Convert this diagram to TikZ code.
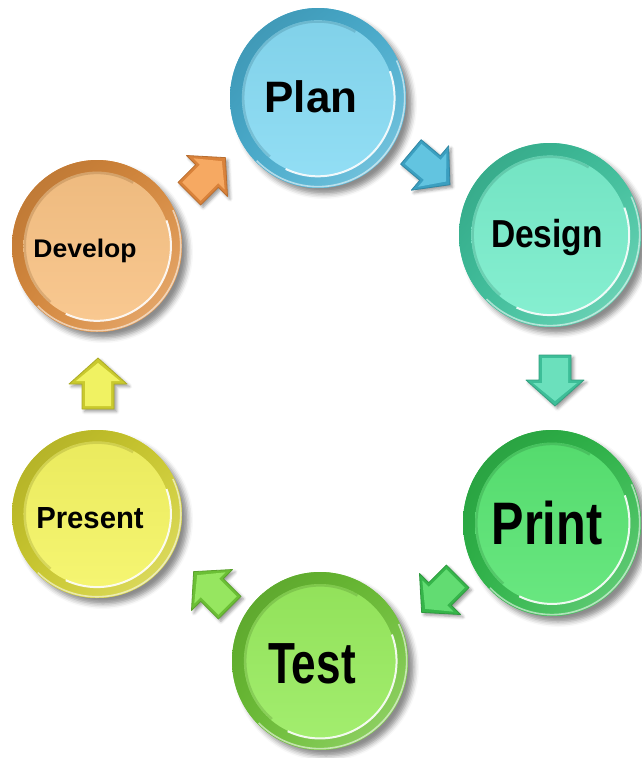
\documentclass[tikz,border=0pt]{standalone}
\usepackage{graphicx}
\usepackage{fontspec}
\setmainfont{Liberation Sans}
\usetikzlibrary{shapes.geometric,shadows.blur,shadings}

% button colours: rim (ring) and face
\definecolor{planR}{HTML}{4AB3D6}
\definecolor{planF}{HTML}{86DAF3}
\definecolor{desR}{HTML}{40C8A2}
\definecolor{desF}{HTML}{78EDCB}
\definecolor{prnR}{HTML}{30BE4C}
\definecolor{prnF}{HTML}{58E472}
\definecolor{tstR}{HTML}{6EC535}
\definecolor{tstF}{HTML}{98EB5E}
\definecolor{preR}{HTML}{D4D22E}
\definecolor{preF}{HTML}{F4F462}
\definecolor{devR}{HTML}{E08E3E}
\definecolor{devF}{HTML}{F8C284}
% arrow colours: face and edge
\definecolor{aOrF}{HTML}{F6A962}
\definecolor{aOrD}{HTML}{D9823A}
\definecolor{aBlF}{HTML}{62C4E0}
\definecolor{aBlD}{HTML}{3B9FC0}
\definecolor{aTeF}{HTML}{6BE0BC}
\definecolor{aTeD}{HTML}{3DBE98}
\definecolor{aGrF}{HTML}{62DC72}
\definecolor{aGrD}{HTML}{36B54A}
\definecolor{aLgF}{HTML}{96E660}
\definecolor{aLgD}{HTML}{6BBF35}
\definecolor{aYeF}{HTML}{F0F262}
\definecolor{aYeD}{HTML}{C9C92E}

\tikzset{
  % glossy round button: x radius, y radius, rim colour, face colour
  button/.style n args={4}{
    ellipse, inner sep=0pt, draw=none,
    minimum width=2*#1pt, minimum height=2*#2pt,
    fill=#3,
    blur shadow={shadow xshift=6pt, shadow yshift=-6pt,
                 shadow blur radius=5pt, shadow opacity=45},
    path picture={
      \begin{scope}[shift={(path picture bounding box.center)}, x=#1pt, y=#2pt]
        % bevelled ring
        \shade[upper left=#3!82!black, upper right=#3!95!black,
               lower left=#3!95!black, lower right=#3!70!white]
          (-1,-1) rectangle (1,1);
        \draw[white, opacity=.55, line width=1.6pt]
          (-135:0.985) arc[start angle=-135, end angle=25, radius=0.985];
        % flat face
        \shade[top color=#4!96!black, middle color=#4, bottom color=#4!90!white]
          (0,0) circle (0.865);
        % inner shadow and glint on the face edge
        \draw[#3!55!black, opacity=.22, line width=2.5pt]
          (60:0.85) arc[start angle=60, end angle=230, radius=0.85];
        \draw[white, opacity=.9, line width=2pt]
          (-115:0.87) arc[start angle=-115, end angle=20, radius=0.87];
      \end{scope}
    }
  },
  lbl/.style={font=\bfseries, anchor=base, inner sep=0pt, text=black},
  pics/blockarrow/.style 2 args={code={
    \filldraw[fill=#2, draw=#2!85!black, line width=0.8pt, line join=round,
              blur shadow={shadow xshift=2.5pt, shadow yshift=-2.5pt,
                           shadow blur radius=3pt, shadow opacity=40}]
      (-25,-16) -- (0,-16) -- (0,-29) -- (26,0) -- (0,29) -- (0,16)
      -- (-25,16) -- cycle;
    \fill[#1]
      (-22,-13) -- (3,-13) -- (3,-22) -- (21,0) -- (3,22) -- (3,13)
      -- (-22,13) -- cycle;
  }}
}

\begin{document}
\begin{tikzpicture}[x=1pt, y=-1pt]
  \useasboundingbox (0,0) rectangle (641,758);

  % the six stage buttons
  \node[button={88}{90}{planR}{planF}] (plan)    at (318,98)  {};
  \node[button={91}{92}{desR}{desF}]   (design)  at (550,235) {};
  \node[button={89}{93}{prnR}{prnF}]   (print)   at (552,523) {};
  \node[button={88}{89}{tstR}{tstF}]   (test)    at (320,661) {};
  \node[button={85}{84}{preR}{preF}]   (present) at (97,514)  {};
  \node[button={85}{86}{devR}{devF}]   (develop) at (97,246)  {};

  % stage names
  \node[lbl] (planlabel)    at (311,112) {\fontsize{44pt}{44pt}\selectfont\scalebox{1.0}[1]{Plan}};
  \node[lbl] (designlabel)  at (547,247) {\fontsize{39pt}{39pt}\selectfont\scalebox{0.86}[1]{Design}};
  \node[lbl] (printlabel)   at (547,544) {\fontsize{60pt}{60pt}\selectfont\scalebox{0.81}[1]{Print}};
  \node[lbl] (testlabel)    at (312,683) {\fontsize{58pt}{58pt}\selectfont\scalebox{0.76}[1]{Test}};
  \node[lbl] (presentlabel) at (90,528)  {\fontsize{30.5pt}{30.5pt}\selectfont\scalebox{0.96}[1]{Present}};
  \node[lbl] (developlabel) at (85,257)  {\fontsize{25.5pt}{25.5pt}\selectfont\scalebox{1.04}[1]{Develop}};

  % block arrows running round the cycle
  \pic[rotate=45]   (toplan)    at (207,176) {blockarrow={aOrF}{aOrD}};
  \pic[rotate=-40]  (todesign)  at (430,168) {blockarrow={aBlF}{aBlD}};
  \pic[rotate=-90]  (toprint)   at (555,380) {blockarrow={aTeF}{aTeD}};
  \pic[rotate=-135] (totest)    at (440,594) {blockarrow={aGrF}{aGrD}};
  \pic[rotate=135]  (topresent) at (212,590) {blockarrow={aLgF}{aLgD}};
  \pic[rotate=90]   (todevelop) at (98,384)  {blockarrow={aYeF}{aYeD}};
\end{tikzpicture}
\end{document}
